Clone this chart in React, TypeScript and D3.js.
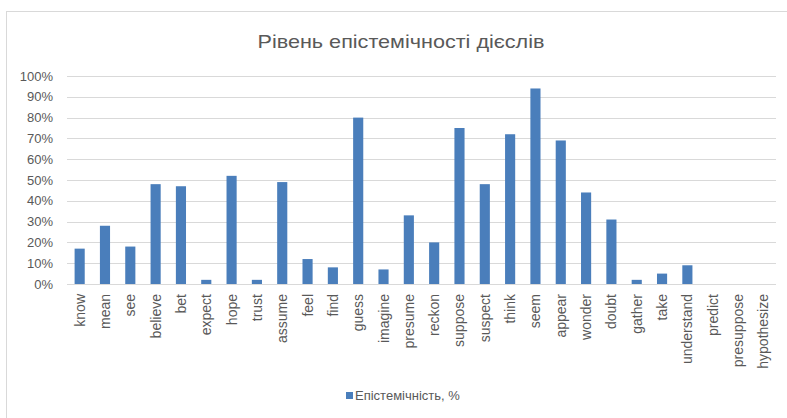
import React from "react";
import * as d3 from "d3";

const categories = ["know","mean","see","believe","bet","expect","hope","trust","assume","feel","find","guess","imagine","presume","reckon","suppose","suspect","think","seem","appear","wonder","doubt","gather","take","understand","predict","presuppose","hypothesize"];
const values = [17,28,18,48,47,2,52,2,49,12,8,80,7,33,20,75,48,72,94,69,44,31,2,5,9,0,0,0];
const yTicks = [0,10,20,30,40,50,60,70,80,90,100];
const title = "Рівень епістемічності дієслів";
const seriesName = "Епістемічність, %";

export default function App() {
  const W = 787, H = 418;
  const x = d3.scaleBand<string>().domain(categories).range([67, 776]).paddingInner(0.6).paddingOuter(0.3);
  const y = d3.scaleLinear().domain([0, 100]).range([284, 76]);
  const font = "'Liberation Sans', Arial, sans-serif";
  const grey = "#595959";
  const blue = "#4a7ebb";
  return (
    <svg width={W} height={H} style={{ position: "absolute", left: 0, top: 0 }} fontFamily={font}>
      <rect x={0} y={0} width={W} height={H} fill="#fff" />
      <rect x={6.5} y={11.5} width={W + 10} height={H + 10} fill="#fff" stroke="#d9d9d9" strokeWidth={1} />
      <text x={401} y={48} textAnchor="middle" fontSize={19} fill={grey} textLength={287} lengthAdjust="spacingAndGlyphs">{title}</text>
      {yTicks.map((t) => (
        <g key={t}>
          <line x1={67} x2={776} y1={Math.round(y(t)) + 0.5} y2={Math.round(y(t)) + 0.5} stroke="#d9d9d9" strokeWidth={1} />
          <text x={53} y={y(t) + 4.5} textAnchor="end" fontSize={13} fill={grey}>{t}%</text>
        </g>
      ))}
      {categories.map((c, i) => (
        <rect key={c} x={x(c)!} y={y(values[i])} width={x.bandwidth()} height={y(0) - y(values[i])} fill={blue} />
      ))}
      {categories.map((c) => (
        <text key={c} transform={`translate(${x(c)! + x.bandwidth() / 2 + 5},294) rotate(-90)`} textAnchor="end" fontSize={14} fill={grey}>{c}</text>
      ))}
      <rect x={346} y={392} width={7} height={7} fill={blue} />
      <text x={355} y={400} fontSize={13} fill={grey}>{seriesName}</text>
    </svg>
  );
}
